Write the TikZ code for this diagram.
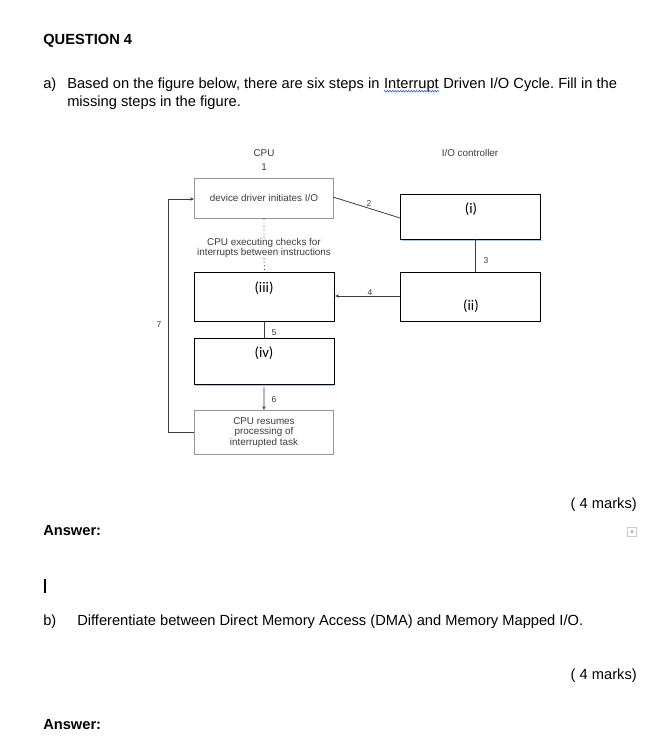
\documentclass[tikz,border=0pt]{standalone}
\usepackage{fontspec}
\setmainfont{Liberation Sans}
\newfontfamily\calib{Carlito}
\usetikzlibrary{arrows.meta,decorations.pathmorphing}
\definecolor{boxgray}{RGB}{150,150,150}
\definecolor{diagtext}{RGB}{60,60,60}
\definecolor{shadowblue}{RGB}{170,200,220}
\definecolor{spellblue}{RGB}{70,110,200}
\frenchspacing
\begin{document}
\begin{tikzpicture}[x=0.75pt,y=-0.75pt,
  body/.style={font=\fontsize{11}{13}\selectfont, inner sep=0pt, anchor=west},
  bold/.style={font=\fontsize{11}{13}\selectfont\bfseries, inner sep=0pt, anchor=west},
  small/.style={font=\fontsize{7.4}{8}\selectfont, text=diagtext, inner sep=0pt, align=center},
  graybox/.style={draw=boxgray, line width=0.7pt, minimum width=104.25pt, minimum height=30pt, inner sep=0pt, anchor=north west, font=\fontsize{7.4}{8}\selectfont, text=diagtext, align=center},
  blackbox/.style={draw=black, line width=0.8pt, minimum width=105pt, inner sep=0pt, anchor=north west},
  roman/.style={font=\calib\fontsize{11}{13}\selectfont, inner sep=0pt},
  conn/.style={draw=diagtext, line width=0.6pt},
  num/.style={font=\fontsize{6.4}{7}\selectfont, text=diagtext, inner sep=0pt}
]
\useasboundingbox (0,0) rectangle (658,750);
\fill[white] (0,0) rectangle (658,750);

% header text
\node[bold] (q4) at (43,41) {QUESTION 4};
\node[body] (alab) at (43,85) {a)};
\node[body] (aline1a) at (67,85) {Based on the figure below, there are six steps in\ \mbox{}};
\node[body, anchor=base west] (intr) at (aline1a.base east) {Interrupt};
\node[body, anchor=base west] (aline1c) at (intr.base east) {\mbox{}\ Driven I/O Cycle. Fill in the};
\node[body] (aline2) at (67,103) {missing steps in the figure.};
\draw[spellblue, line width=0.5pt, decorate, decoration={zigzag, amplitude=0.6pt, segment length=2pt}] ([yshift=-1.8pt]intr.base west) -- ([yshift=-1.8pt]intr.base east);

% diagram labels
\node[small] (cpu) at (264,153) {CPU};
\node[small] (one) at (264,167) {1};
\node[small] (ioc) at (470,153) {I/O controller};

% boxes
\node[graybox, minimum height=30pt] (b1) at (194,178) {device driver initiates I/O};
\node[blackbox, minimum height=33.75pt] (bi) at (400,194) {};
\node[roman] at (471,209) {(i)};
\node[blackbox, minimum height=36.75pt] (biii) at (194,272) {};
\node[roman] at (264,288) {(iii)};
\node[blackbox, minimum height=36.75pt] (bii) at (400,272) {};
\node[roman] at (471,306) {(ii)};
\node[blackbox, minimum height=34.5pt] (biv) at (194,338) {};
\node[roman] at (264,353) {(iv)};
\draw[shadowblue, line width=1.2pt] (195,385.5) -- (334,385.5);
\draw[shadowblue, line width=0.8pt] (402,240.5) -- (542,240.5);
\node[graybox, minimum height=33pt] (bres) at (194,410) {CPU resumes\\processing of\\interrupted task};

% CPU executing text
\node[small] (chk) at (264,248) {CPU executing checks for\\interrupts between instructions};
\draw[diagtext, line width=0.7pt, dotted] (b1.south) -- (chk.north);
\draw[diagtext, line width=0.7pt, dotted] (chk.south) -- (biii.north);

% connectors
\coordinate (b1r) at (333,197);
\coordinate (bil) at (400,218);
\draw[conn] (b1r) -- (bil);
\node[num] at (369,204) {2};
\draw[conn] (475,239) -- (475,272);
\node[num] at (486,261) {3};
\draw[conn, -{Stealth[length=3pt,width=2.5pt]}] (bii.west |- 0,296) -- (biii.east |- 0,296);
\node[num] at (370,293) {4};
\draw[conn] (biii.south) -- (biv.north);
\node[num] at (274,333) {5};
\draw[conn, -{Stealth[length=3pt,width=2.5pt]}] (264,387) -- (bres.north);
\node[num] at (274,400) {6};
\coordinate (lt) at (168,199);
\coordinate (lb) at (168,432);
\draw[conn, -{Stealth[length=3pt,width=2.5pt]}] (bres.west |- lb) -- (lb) -- (lt) -- (b1.west |- lt);
\node[num] at (159,325) {7};

% lower text
\node[body, anchor=east] (m1) at (637,505) {( 4 marks)};
\node[bold] (ans1) at (43,531) {Answer:};
\node[draw=black!20, fill=white, minimum size=7pt, inner sep=0pt, line width=0.4pt] (dd) at (632,532) {};
\fill[black!35] (630,530.5) -- (634,530.5) -- (632,533.5) -- cycle;
\draw[black, line width=1.4pt] (45,579) -- (45,593);
\node[body] (blab) at (43,622) {b)};
\node[body] (bline) at (77,622) {Differentiate between Direct Memory Access (DMA) and Memory Mapped I/O.};
\node[body, anchor=east] (m2) at (637,676) {( 4 marks)};
\node[bold] (ans2) at (43,725) {Answer:};
\end{tikzpicture}
\end{document}
